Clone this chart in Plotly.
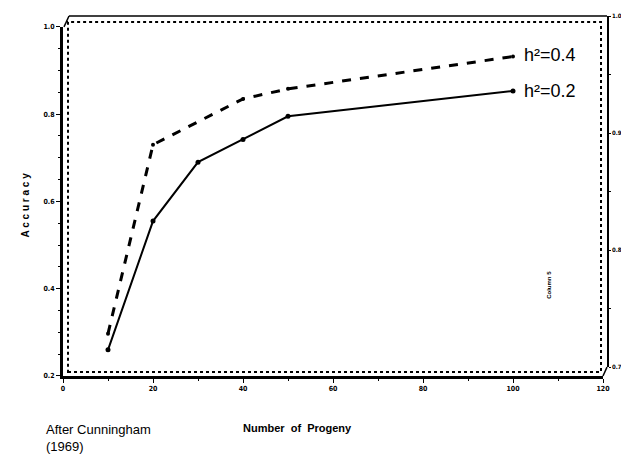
import plotly.graph_objects as go

# Data
progeny_02 = [10, 20, 30, 40, 50, 100]
accuracy_02 = [0.26, 0.555, 0.69, 0.742, 0.795, 0.853]
progeny_04 = [10, 20, 40, 50, 100]
accuracy_04 = [0.297, 0.73, 0.835, 0.858, 0.932]

x_ticks = [0, 20, 40, 60, 80, 100, 120]
y_ticks = [0.2, 0.4, 0.6, 0.8, 1.0]
y_ticklabels = ["0.2", "0.4", "0.6", "0.8", "1.0"]
y2_ticks = [0.7, 0.8, 0.9, 1.0]
y2_ticklabels = ["0.7", "0.8", "0.9", "1.0"]

# the page body has an 8px margin, so the figure is drawn 8px in from the window edge
W, H = 621, 464
L, R, T, B = 55, 22, 4, 96
PW, PH = W - L - R, H - T - B


def px(x):  # window pixel -> paper fraction
    return (x - 63) / PW


def py(y):
    return (376 - y) / PH


tickfont = dict(family="DejaVu Sans Condensed, Liberation Sans, Arial", size=7, color="black", weight="bold")
rtickfont = dict(family="DejaVu Sans Condensed, Liberation Sans, Arial", size=6, color="black", weight="bold")

fig = go.Figure()
fig.add_trace(go.Scatter(
    x=progeny_04, y=accuracy_04, mode="lines+markers",
    line=dict(color="black", width=3, dash="dash"),
    marker=dict(size=4, color="black"), showlegend=False,
))
fig.add_trace(go.Scatter(
    x=progeny_02, y=accuracy_02, mode="lines+markers",
    line=dict(color="black", width=2),
    marker=dict(size=5, color="black"), showlegend=False,
))
# invisible trace to materialise the right-hand axis
fig.add_trace(go.Scatter(x=[0], y=[0.7], xaxis="x2", yaxis="y2", mode="markers",
                         marker=dict(opacity=0), showlegend=False, hoverinfo="skip"))

fig.update_layout(
    width=W, height=H,
    margin=dict(l=L, r=R, t=T, b=B),
    plot_bgcolor="rgba(0,0,0,0)", paper_bgcolor="white",
    xaxis=dict(range=[0, 120], domain=[0, px(603)], tickvals=x_ticks,
               ticks="outside", ticklen=4, tickwidth=1, tickcolor="black",
               showline=True, linewidth=3, linecolor="black",
               showgrid=False, zeroline=False, tickfont=tickfont,
               minor=dict(dtick=10, ticks="outside", ticklen=2, tickcolor="black")),
    yaxis=dict(range=[0.2, 1.0], domain=[0, py(23)], tickvals=y_ticks, ticktext=y_ticklabels,
               ticks="outside", ticklen=4, tickwidth=1, tickcolor="black",
               showline=True, linewidth=3, linecolor="black",
               showgrid=False, zeroline=False, tickfont=tickfont,
               minor=dict(dtick=0.05, ticks="outside", ticklen=2, tickcolor="black")),
    xaxis2=dict(range=[0, 1], domain=[0, 1], anchor="y2", visible=False),
    yaxis2=dict(range=[0.7, 1.0], domain=[py(367), 1.0], anchor="x2", side="right",
                tickvals=y2_ticks, ticktext=y2_ticklabels,
                ticks="outside", ticklen=2, tickwidth=1, tickcolor="black",
                showline=True, linewidth=1.5, linecolor="black",
                showgrid=False, zeroline=False, tickfont=rtickfont,
                minor=dict(dtick=0.05, ticks="outside", ticklen=2, tickcolor="black")),
    shapes=[
        # back wall (dotted)
        dict(type="rect", xref="paper", yref="paper",
             x0=px(68), x1=px(601), y0=py(372), y1=py(18),
             line=dict(color="black", width=2, dash="dot")),
        # top frame line
        dict(type="line", xref="paper", yref="paper",
             x0=px(69), x1=1, y0=py(12), y1=py(12),
             line=dict(color="black", width=1.5)),
        # corner connectors
        dict(type="line", xref="paper", yref="paper",
             x0=px(64), x1=px(69), y0=py(23), y1=py(12),
             line=dict(color="black", width=1.5)),
        dict(type="line", xref="paper", yref="paper",
             x0=px(603), x1=1, y0=py(376), y1=py(367),
             line=dict(color="black", width=1.5)),
    ],
    annotations=[
        dict(text="h²=0.4", x=102, y=0.935, xref="x", yref="y", xanchor="left",
             yanchor="middle", showarrow=False,
             font=dict(family="Liberation Sans, Arial", size=18, color="black")),
        dict(text="h²=0.2", x=102, y=0.853, xref="x", yref="y", xanchor="left",
             yanchor="middle", showarrow=False,
             font=dict(family="Liberation Sans, Arial", size=18, color="black")),
        dict(text="<b>Column 5</b>", x=px(554), y=py(300), xref="paper", yref="paper",
             textangle=-90, showarrow=False,
             font=dict(family="Liberation Sans, Arial", size=6, color="black")),
        dict(text="<b>A c c u r a c y</b>", x=px(18), y=py(203), xref="paper", yref="paper",
             textangle=-90, showarrow=False,
             font=dict(family="Liberation Sans, Arial", size=10, color="black")),
        dict(text="<b>Number  of  Progeny</b>", x=px(297), y=py(437), xref="paper", yref="paper",
             showarrow=False,
             font=dict(family="Liberation Sans, Arial", size=11, color="black")),
        dict(text="After Cunningham<br>(1969)", x=px(44), y=py(420), xref="paper", yref="paper",
             xanchor="left", yanchor="top", align="left", showarrow=False,
             font=dict(family="Liberation Sans, Arial", size=13, color="black")),
    ],
)

fig.write_html("out.html")
